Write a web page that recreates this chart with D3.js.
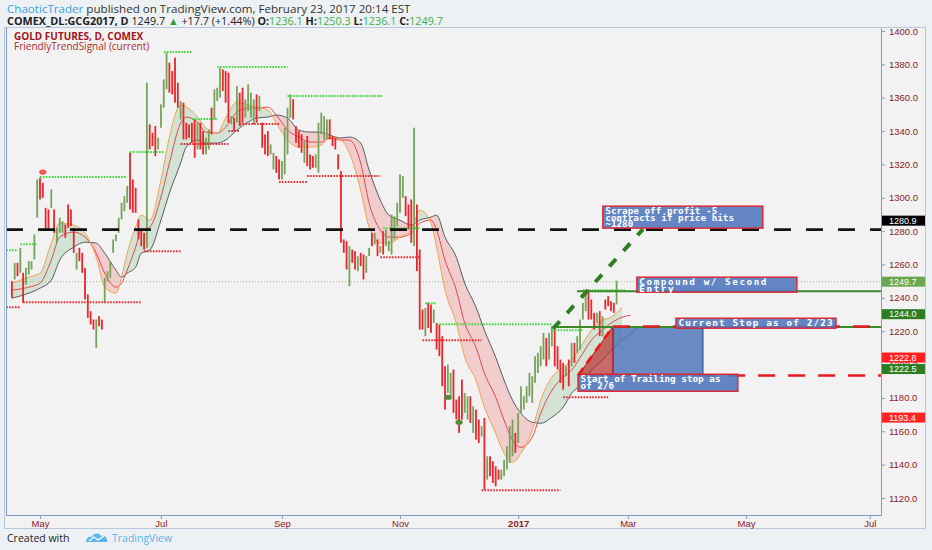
<!DOCTYPE html>
<html><head><meta charset="utf-8">
<script src="https://cdn.jsdelivr.net/npm/d3@7"></script>
<style>
html,body{margin:0;padding:0;background:#eef1f4;}
svg{display:block;font-family:"Open Sans","Liberation Sans",Arial,sans-serif;}
</style></head><body>
<svg id="chart" width="932" height="550"></svg>
<script>
// ---------------- DATA ----------------
const holidays = ["2016-05-30","2016-07-04","2016-09-05","2016-11-24","2016-12-26","2017-01-02","2017-01-16","2017-02-20","2017-04-14","2017-05-29","2017-07-04"];
const firstBarDate = "2016-04-18";
const originDate = "2016-05-02";
const calendarEnd = "2017-07-31";
const viewFirstBar = -12.09, viewLastBar = 299.0;
const priceMin = 1109.8, priceMax = 1401.8;

const barHigh = [1250,1261,1261,1270,1255,1258,1262,1262,1278,1311,
1312,1309,1294,1293,1305,1293,1282,1288,1286,1284,
1296,1293,1282,1267,1270,1267,1258,1242,1232,1227,
1227,1229,1227,1252,1256,1262,1275,1278,1288,1297,
1301,1307,1327,1311,1306,1287,1281,1279,1369,1344,
1339,1343,1336,1356,1371,1387,1381,1376,1384,1369,
1358,1357,1345,1344,1345,1347,1345,1345,1340,1336,
1341,1354,1365,1366,1378,1377,1376,1375,1349,1348,
1367,1363,1366,1359,1368,1363,1359,1362,1361,1345,
1338,1340,1332,1327,1325,1323,1322,1342,1354,1362,
1359,1343,1340,1338,1334,1337,1326,1325,1326,1345,
1351,1349,1347,1347,1337,1336,1326,1316,1275,1274,
1271,1269,1268,1265,1267,1266,1265,1270,1279,1279,
1275,1271,1280,1281,1274,1290,1289,1297,1314,1313,
1301,1296,1299,1342,1296,1269,1233,1234,1237,1236,
1233,1225,1224,1217,1199,1200,1195,1197,1179,1181,
1191,1183,1181,1181,1175,1173,1167,1163,1168,1145,
1145,1142,1139,1137,1137,1143,1151,1163,1167,1159,
1171,1187,1181,1187,1195,1193,1205,1207,1211,1219,
1216,1219,1223,1221,1211,1203,1201,1199,1203,1213,
1213,1217,1227,1237,1244,1245,1239,1231,1231,1232,
1229,1239,1241,1238,1237,1250.3];
const barLow = [1240,1251,1253,1255,1237,1248,1254,1257,1263,1288,
1299,1300,1281,1281,1294,1279,1273,1279,1279,1276,
1282,1283,1267,1257,1262,1255,1239,1228,1224,1221,
1210,1223,1221,1237,1250,1252,1267,1274,1279,1287,
1292,1297,1293,1291,1291,1275,1271,1269,1270,1329,
1331,1325,1329,1342,1354,1365,1363,1362,1357,1354,
1347,1335,1335,1336,1333,1324,1329,1329,1326,1326,
1329,1338,1347,1358,1360,1364,1357,1345,1344,1340,
1345,1343,1345,1348,1352,1348,1344,1345,1352,1330,
1326,1325,1326,1317,1315,1311,1311,1314,1326,1348,
1347,1333,1330,1327,1321,1319,1317,1318,1318,1315,
1338,1335,1335,1335,1331,1329,1317,1273,1267,1257,
1247,1261,1257,1256,1259,1251,1255,1265,1271,1272,
1265,1267,1266,1271,1268,1266,1275,1283,1291,1300,
1289,1281,1273,1271,1256,1221,1221,1217,1222,1219,
1225,1209,1205,1187,1173,1183,1179,1171,1167,1159,
1167,1171,1167,1165,1159,1155,1153,1157,1125,1131,
1133,1129,1127,1131,1131,1133,1137,1141,1145,1147,
1153,1171,1173,1177,1181,1177,1189,1195,1199,1203,
1199,1203,1211,1199,1197,1189,1185,1193,1187,1199,
1201,1207,1209,1227,1232,1227,1227,1221,1225,1217,
1217,1233,1235,1232,1231,1236.1];
const barUp = [0,1,0,1,0,1,1,1,1,1,
0,0,0,0,1,0,1,1,1,0,
0,0,0,1,0,0,0,0,0,0,
1,0,0,1,1,1,1,1,1,1,
1,1,0,0,0,0,0,0,1,0,
0,0,1,1,1,1,0,0,0,0,
1,0,0,0,0,0,1,0,0,1,
1,0,1,1,1,0,0,0,1,0,
1,0,0,1,1,1,1,0,1,0,
0,0,1,1,0,0,1,1,1,1,
0,0,0,0,1,0,0,0,1,1,
1,1,1,0,0,0,0,0,0,0,
1,0,0,1,0,0,1,1,0,1,
0,1,0,1,1,1,1,1,1,1,
0,0,0,1,0,0,0,1,0,0,
1,0,0,0,0,1,1,0,0,0,
0,1,1,0,1,0,0,1,0,1,
0,0,0,0,1,1,1,1,1,0,
1,1,1,1,1,1,1,1,1,1,
0,1,1,0,0,0,0,1,0,1,
0,1,1,1,1,0,0,0,1,0,
1,0,0,0,0,1];

// indicator lines (bar number relative to 2 May 2016, price)
const maBar = [-10,-4,0,4,7,12,16,20,23,27,29,31,34,36,39,43,46,50,52,56,59,63,66,70,74,77,81,84,88,92,96,100,103,107,110,114,117,121,124,128,132,135,139,141,144,148,151,155,158,162,165,168,171,175,178,182,186,189,193,196,200,203,207,210,213];
const maFast = [1248.8,1252.4,1254.8,1272.8,1284.8,1283.6,1278.8,1264.4,1246.4,1242.8,1252.4,1266.8,1282.4,1289.6,1286.6,1310.6,1336.4,1355.6,1354.4,1348.4,1341.8,1338.8,1347.8,1357.4,1355.6,1354.4,1352.6,1344.8,1334.6,1330.4,1330.4,1331.6,1336.4,1334.6,1326.8,1304.6,1282.4,1272.8,1272.8,1276.4,1280.6,1292.6,1284.8,1270.4,1244.6,1224.8,1204.4,1190.6,1174.4,1158.8,1146.8,1141.4,1146.8,1160.6,1178.6,1192.4,1198.4,1202.6,1212.8,1220.6,1226.6,1228.4,1234.4,null,null];
const maMid = [1244.6,1246.4,1248.8,1262.6,1276.4,1279.4,1276.4,1266.8,1254.8,1246.4,1248.8,1256.6,1270.4,1280.6,1282.4,1300.4,1320.8,1344.8,1348.4,1345.4,1339.4,1338.8,1342.4,1351.4,1353.8,1353.8,1354.4,1349.6,1340.6,1336.4,1333.4,1333.4,1335.8,1334.6,1334.6,1320.8,1296.8,1280.6,1276.4,1276.4,1278.8,1284.8,1286.6,1280.6,1262.6,1244.6,1224.8,1210.4,1194.8,1180.4,1166.6,1154.6,1150.4,1156.4,1170.8,1184.6,1192.4,1196.6,1206.8,1214.6,1220.6,1224.8,1228.4,1229.6,null];
const maSlow = [1239.8,1242.8,1245.8,1250.6,1262.6,1270.4,1273.4,1272.8,1266.8,1256.6,1252.4,1254.8,1258.4,1266.8,1268.6,1286.6,1302.8,1320.8,1330.4,1334.6,1332.8,1332.8,1334.6,1340.6,1345.4,1347.8,1348.4,1349.6,1347.8,1340.6,1339.4,1339.4,1337.6,1335.8,1336.4,1332.8,1316.6,1298.6,1289.6,1286.6,1283.6,1286.6,1288.4,1289.6,1276.4,1264.4,1248.8,1234.4,1220.6,1204.4,1190.6,1178.6,1170.8,1165.4,1164.8,1168.4,1174.4,1182.8,1188.8,1196.6,1202.6,1208.6,1214.6,1218.6,1223];

// signal levels [fromBar, toBar, price]
const highSteps = [[-12,-8,1268.6],[-7,-1,1272.2],[0,31,1312.4],[32,44,1327.4],[44,54,1387.4],[54,63,1347.2],[63,88,1378.4],[88,122,1361],[122,135,1281.8],[137,141,1236.8],[141,182,1224.2],[182,193,1220.6],[193,208,1244.6]];
const lowSteps = [[-12,-7,1234.4],[-6,36,1237.4],[37,50,1268],[50,67,1332.2],[67,71,1340],[71,85,1344.2],[85,95,1309.4],[95,121,1313],[121,135,1264.4],[136,157,1214.6],[157,185,1124.6],[186,202,1180.4]];
const sellDots = [[1,1315.4]];
const buyDots = [[145,1180.4],[149,1165.4]];

// drawings
const lastPrice = 1249.7;
const targetLevel = 1280.9;
const compoundLevel = 1244.0, compoundFrom = 190.9;
const entryLevel = 1222.5, entryFrom = 182.4;
const stopLevel = 1222.8, stopFrom = 203.7;
const trailLevel = 1193.4, trailFrom = 191.3;
const targetPath = [[182.4,1221.5],[214.4,1281.2]];
const trailTriangle = [[191.3,1193.4],[203.7,1222.8],[203.7,1193.4]];
const riskBox = {bar0:203.7, bar1:235.7, top:1222.8, bottom:1193.4};
const notes = [
  {lines:["Scrape off profit -5","contracts if price hits","~1280"], bar0:200.1, bar1:257.0, top:1295.0, bottom:1281.8},
  {lines:["Compound w/ Second","Entry"], bar0:212.2, bar1:269.1, top:1252.4, bottom:1243.4},
  {lines:["Current Stop as of 2/23"], bar0:226.1, bar1:283.0, top:1227.8, bottom:1221.8},
  {lines:["Start of Trailing stop as","of 2/6"], bar0:191.3, bar1:248.1, top:1194.2, bottom:1184.0}
];
const priceTicks = d3.range(1120, 1401, 20);
const axisTags = [
  {v:1280.9, bg:"#000000"}, {v:1249.7, bg:"#6aa84f"}, {v:1244.0, bg:"#2e7d22"},
  {v:1222.8, bg:"#ff1f1f"}, {v:1222.5, bg:"#2e7d22"}, {v:1193.4, bg:"#ff2424"}
];
const monthTicks = [["2016-05-02","May"],["2016-07-01","Jul"],["2016-09-01","Sep"],["2016-11-01","Nov"],["2017-01-03","2017"],["2017-03-01","Mar"],["2017-05-01","May"],["2017-07-03","Jul"]];

// ---------------- SETUP ----------------
function parse(s){const [a,b,c]=s.split("-").map(Number);return new Date(Date.UTC(a,b-1,c));}
function fmt(d){return d.toISOString().slice(0,10);}
const tradingDays=[];
for(let d=parse(firstBarDate); d<=parse(calendarEnd); d=new Date(d.getTime()+864e5)){
  const wd=d.getUTCDay(), s=fmt(d);
  if(wd!==0&&wd!==6&&!holidays.includes(s)) tradingDays.push(s);
}
const origin = tradingDays.indexOf(originDate);
const dayIdx = s => tradingDays.indexOf(s) - origin;

const svg = d3.select("#chart");
const plot = {l:6, r:881, t:28, b:515};
const x = d3.scaleLinear().domain([viewFirstBar, viewLastBar]).range([plot.l, plot.r]);
const y = d3.scaleLinear().domain([priceMin, priceMax]).range([plot.b, plot.t]);

// frame backgrounds
svg.append("rect").attr("x",0).attr("y",0).attr("width",932).attr("height",550).attr("fill","#eef1f4");
svg.append("rect").attr("x",4.5).attr("y",27.5).attr("width",921).attr("height",501).attr("fill","#f2f2f2").attr("stroke","#b8c8dc");
svg.append("defs").append("clipPath").attr("id","pc").append("rect")
  .attr("x",plot.l).attr("y",plot.t).attr("width",plot.r-plot.l).attr("height",plot.b-plot.t);

const g = svg.append("g").attr("clip-path","url(#pc)");

// indicator band fill
const maPts = maBar.map((b,i)=>({b, f:maFast[i], m:maMid[i], s:maSlow[i]}));
const curve = d3.curveMonotoneX;
const defs = svg.select("defs");
const slowPts = maPts.filter(d=>d.s!=null);
defs.append("clipPath").attr("id","above").append("path")
  .attr("d", d3.area().x(d=>x(d.b)).y0(plot.t-5).y1(d=>y(d.s)).curve(curve)(slowPts));
defs.append("clipPath").attr("id","below").append("path")
  .attr("d", d3.area().x(d=>x(d.b)).y0(plot.b+5).y1(d=>y(d.s)).curve(curve)(slowPts));
const band = d3.area().defined(d=>d.f!=null&&d.s!=null).x(d=>x(d.b)).y0(d=>y(d.s)).y1(d=>y(d.f)).curve(curve);
const bandPts = maPts.filter(d=>d.f!=null);
g.append("path").attr("d",band(bandPts)).attr("fill","rgba(120,185,120,0.25)").attr("clip-path","url(#above)");
g.append("path").attr("d",band(bandPts)).attr("fill","rgba(240,120,120,0.30)").attr("clip-path","url(#below)");

const lineOf = key => d3.line().x(d=>x(d.b)).y(d=>y(d[key])).curve(curve)(maPts.filter(d=>d[key]!=null));
g.append("path").attr("d",lineOf("s")).attr("fill","none").attr("stroke","#555b66").attr("stroke-width",1);
g.append("path").attr("d",lineOf("m")).attr("fill","none").attr("stroke","#e5484d").attr("stroke-width",1);
g.append("path").attr("d",lineOf("f")).attr("fill","none").attr("stroke","#f5a04c").attr("stroke-width",1);

// last price dotted line
g.append("line").attr("x1",plot.l).attr("x2",plot.r).attr("y1",y(lastPrice)).attr("y2",y(lastPrice))
  .attr("stroke","#a9b07a").attr("stroke-width",1).attr("stroke-dasharray","1,2");

// bars
const bars = barHigh.map((h,k)=>({i:k - origin, h, l:barLow[k], up:barUp[k]}));
g.selectAll("rect.bar").data(bars).join("rect").attr("class","bar")
  .attr("x",d=>x(d.i)-0.9).attr("width",1.8)
  .attr("y",d=>y(d.h)).attr("height",d=>Math.max(1,y(d.l)-y(d.h)))
  .attr("fill",d=>d.up?"#77a25a":"#e8262b");

// signal steps
function steps(data,color){
  g.selectAll(null).data(data).join("line")
   .attr("x1",d=>x(d[0])).attr("x2",d=>x(d[1])).attr("y1",d=>y(d[2])).attr("y2",d=>y(d[2]))
   .attr("stroke",color).attr("stroke-width",2).attr("stroke-dasharray","1.6,1.3");
}
steps(highSteps,"#3fdc3a");
steps(lowSteps,"#f0282b");
g.selectAll(null).data(sellDots).join("ellipse").attr("cx",d=>x(d[0])).attr("cy",d=>y(d[1])).attr("rx",3.6).attr("ry",2.6).attr("fill","#f25555");
g.selectAll(null).data(buyDots).join("ellipse").attr("cx",d=>x(d[0])).attr("cy",d=>y(d[1])).attr("rx",3.6).attr("ry",2.6).attr("fill","#4f8a3c");

// drawings
g.append("line").attr("x1",plot.l).attr("x2",plot.r).attr("y1",y(targetLevel)).attr("y2",y(targetLevel))
  .attr("stroke","#111").attr("stroke-width",2.6).attr("stroke-dasharray","17,15");
g.append("rect").attr("x",x(riskBox.bar0)).attr("y",y(riskBox.top)).attr("width",x(riskBox.bar1)-x(riskBox.bar0))
  .attr("height",y(riskBox.bottom)-y(riskBox.top)).attr("fill","#4c73b8").attr("fill-opacity",0.82).attr("stroke","#27407a").attr("stroke-width",1);
g.append("path").attr("d",d3.line().x(d=>x(d[0])).y(d=>y(d[1]))(trailTriangle)+"Z")
  .attr("fill","#b52a2a").attr("fill-opacity",0.68).attr("stroke","#c01818").attr("stroke-width",1);
g.append("line").attr("x1",x(trailTriangle[0][0])).attr("y1",y(trailTriangle[0][1])).attr("x2",x(trailTriangle[1][0])).attr("y2",y(trailTriangle[1][1]))
  .attr("stroke","#ee1c1c").attr("stroke-width",3).attr("stroke-dasharray","9,6");
g.append("line").attr("x1",x(compoundFrom)).attr("x2",plot.r).attr("y1",y(compoundLevel)).attr("y2",y(compoundLevel))
  .attr("stroke","#3b8a2a").attr("stroke-width",2);
g.append("line").attr("x1",x(entryFrom)).attr("x2",plot.r).attr("y1",y(entryLevel)).attr("y2",y(entryLevel))
  .attr("stroke","#3b8a2a").attr("stroke-width",2);
g.append("line").attr("x1",x(stopFrom)).attr("x2",plot.r).attr("y1",y(stopLevel)).attr("y2",y(stopLevel))
  .attr("stroke","#e8191f").attr("stroke-width",2.6).attr("stroke-dasharray","17,13");
g.append("line").attr("x1",x(trailFrom)).attr("x2",plot.r).attr("y1",y(trailLevel)).attr("y2",y(trailLevel))
  .attr("stroke","#e8191f").attr("stroke-width",2.6).attr("stroke-dasharray","17,13");
g.append("line").attr("x1",x(targetPath[0][0])).attr("y1",y(targetPath[0][1])).attr("x2",x(targetPath[1][0])).attr("y2",y(targetPath[1][1]))
  .attr("stroke","#2f7f22").attr("stroke-width",4).attr("stroke-dasharray","10,11");

// notes
const noteSpacing = [0,1.55,1.15,0];
notes.forEach((n,k)=>{
  const x0=x(n.bar0), y0=y(n.top);
  g.append("rect").attr("x",x0).attr("y",y0).attr("width",x(n.bar1)-x0).attr("height",y(n.bottom)-y0)
   .attr("fill","#5479bf").attr("fill-opacity",0.9).attr("stroke","#e0212b").attr("stroke-width",1.4);
  n.lines.forEach((ln,j)=>{
    g.append("text").attr("x",x0+2.5).attr("y",y0+7.6+j*6.8).attr("fill","#ffffff")
      .attr("font-family","'DejaVu Sans Mono',monospace").attr("font-weight","bold").attr("font-size","9.3px")
      .attr("letter-spacing",noteSpacing[k]).text(ln);
  });
});

// ---------------- AXES ----------------
svg.append("line").attr("x1",plot.r+0.5).attr("x2",plot.r+0.5).attr("y1",plot.t).attr("y2",plot.b).attr("stroke","#7e9cc6");
svg.append("line").attr("x1",plot.l+0.5).attr("x2",plot.l+0.5).attr("y1",plot.t).attr("y2",plot.b).attr("stroke","#7e9cc6");
svg.append("line").attr("x1",plot.l).attr("x2",plot.r+1).attr("y1",plot.b+0.5).attr("y2",plot.b+0.5).attr("stroke","#7e9cc6");

const yAxis = svg.append("g").attr("transform",`translate(${plot.r+1},0)`)
  .call(d3.axisRight(y).tickValues(priceTicks).tickFormat(d3.format(".1f")).tickSize(3).tickPadding(4));
yAxis.select(".domain").remove();
yAxis.selectAll("line").attr("stroke","#7e9cc6");
yAxis.selectAll("text").attr("fill","#8b1a1a").attr("font-size","9.5px").attr("font-family","'Liberation Sans',Arial,sans-serif");

const xAxis = svg.append("g").attr("transform",`translate(0,${plot.b+1})`)
  .call(d3.axisBottom(x).tickValues(monthTicks.map(m=>dayIdx(m[0]))).tickFormat((d,i)=>monthTicks[i][1]).tickSize(3).tickPadding(1));
xAxis.select(".domain").remove();
xAxis.selectAll("line").attr("stroke","#7e9cc6");
xAxis.selectAll("text").attr("fill","#8b1a1a").attr("font-size","9.5px").attr("font-family","'Liberation Sans',Arial,sans-serif")
  .attr("font-weight",(d,i)=>monthTicks[i][1]==="2017"?"bold":"normal");

// axis price tags
const tagShift = [-9, 0, 23, 31, 42, 42];
axisTags.forEach((t,k)=>{
  const cy = y(t.v)+tagShift[k];
  svg.append("rect").attr("x",plot.r+1).attr("y",cy-5).attr("width",43).attr("height",10).attr("fill",t.bg);
  svg.append("text").attr("x",plot.r+8).attr("y",cy+3.2).attr("fill","#fff").attr("font-size","9px")
    .attr("font-family","'Liberation Sans',Arial,sans-serif").text(t.v.toFixed(1));
});

// ---------------- TEXT ----------------
const h1 = svg.append("text").attr("x",7).attr("y",12.5).attr("font-size","11.6px");
h1.append("tspan").attr("fill","#3aa2dc").text("ChaoticTrader");
h1.append("tspan").attr("fill","#333").text(" published on TradingView.com, February 23, 2017 20:14 EST");
const h2 = svg.append("text").attr("x",7).attr("y",24.5).attr("font-size","10.8px").attr("fill","#222");
h2.append("tspan").attr("font-weight","bold").text("COMEX_DL:GCG2017, D");
h2.append("tspan").text(" 1249.7 ");
h2.append("tspan").attr("fill","#3a9a3a").text("▲");
h2.append("tspan").text(" +17.7 (+1.44%) ");
[["O:","1236.1"],["H:","1250.3"],["L:","1236.1"],["C:","1249.7"]].forEach((p,i)=>{
  h2.append("tspan").attr("font-weight","bold").text((i?" ":"")+p[0]);
  h2.append("tspan").attr("fill","#3cb043").text(p[1]);
});
svg.append("text").attr("x",14).attr("y",40).attr("font-size","10px").attr("font-weight","bold").attr("fill","#a3161b").text("GOLD FUTURES, D, COMEX");
svg.append("text").attr("x",14).attr("y",50).attr("font-size","10px").attr("fill","#b02a2a").text("FriendlyTrendSignal (current)");

svg.append("text").attr("x",7).attr("y",542).attr("font-size","10.5px").attr("fill","#222").text("Created with");
const logo = svg.append("g").attr("transform","translate(86,533)");
logo.append("path").attr("d","M0,9 C0,5 3,3 6,4 C7,0 13,-1 15,3 C19,2 22,5 21,9 Z").attr("fill","#5db6e8");
logo.append("path").attr("d","M3,8 L8,4 L12,7 L18,3").attr("fill","none").attr("stroke","#fff").attr("stroke-width",1.3);
svg.append("text").attr("x",112).attr("y",542).attr("font-size","10.5px").attr("fill","#5ab4e5").text("TradingView");
</script>
</body></html>
